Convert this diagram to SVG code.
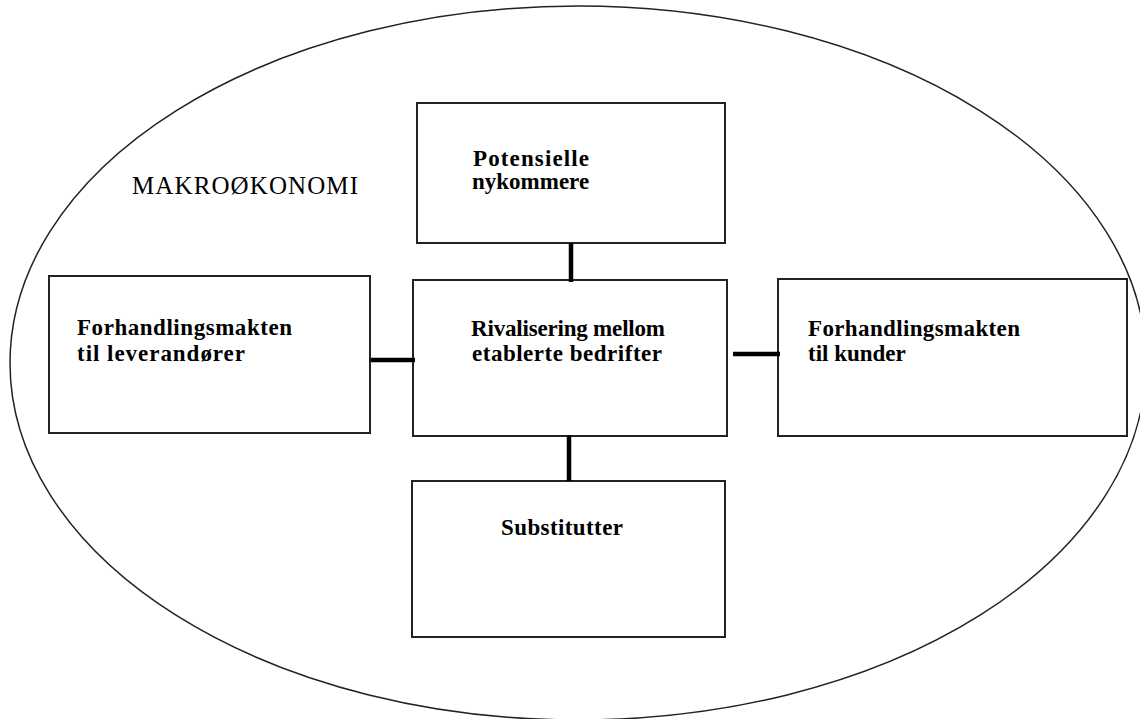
<svg xmlns="http://www.w3.org/2000/svg" width="1140" height="719" viewBox="0 0 1140 719">
<style>
.box{fill:#fff;stroke:#222;stroke-width:2}
.t{font-family:"Liberation Serif",serif;font-size:23px;font-weight:bold;fill:#000}
.m{font-family:"Liberation Serif",serif;font-size:25px;fill:#000}
.c{stroke:#000;stroke-width:4.5;fill:none}
</style>
<rect width="1140" height="719" fill="#fff"/>
<g id="macro">
<ellipse cx="578" cy="363" rx="568" ry="357" fill="none" stroke="#222" stroke-width="1.5"/>
<text class="m" x="132" y="194" textLength="226">MAKROØKONOMI</text>
</g>
<g id="nykommere">
<rect class="box" x="417" y="103" width="308" height="140"/>
<text class="t" x="473" y="166" textLength="116">Potensielle</text>
<text class="t" x="472" y="189">nykommere</text>
</g>
<g id="leverandorer">
<rect class="box" x="49" y="276" width="321" height="157"/>
<text class="t" x="77" y="335" textLength="215">Forhandlingsmakten</text>
<text class="t" x="77" y="361" textLength="168">til leverandører</text>
</g>
<g id="rivalisering">
<rect class="box" x="413" y="280" width="314" height="156"/>
<text class="t" x="471" y="336" textLength="194">Rivalisering mellom</text>
<text class="t" x="472" y="361" textLength="190">etablerte bedrifter</text>
</g>
<g id="kunder">
<rect class="box" x="778" y="279" width="349" height="157"/>
<text class="t" x="808" y="336" textLength="212">Forhandlingsmakten</text>
<text class="t" x="808" y="361">til kunder</text>
</g>
<g id="substitutter">
<rect class="box" x="412" y="481" width="313" height="156"/>
<text class="t" x="501" y="535" textLength="122">Substitutter</text>
</g>
<g id="connectors">
<line class="c" x1="371" y1="360" x2="415" y2="360"/>
<line class="c" x1="733" y1="354" x2="780" y2="354"/>
<line class="c" x1="571" y1="243" x2="571" y2="282"/>
<line class="c" x1="569" y1="435" x2="569" y2="481"/>
</g>
</svg>
